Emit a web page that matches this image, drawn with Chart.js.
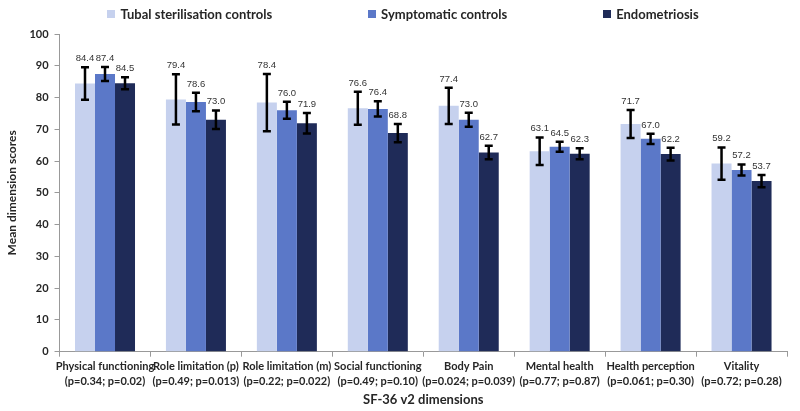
<!DOCTYPE html>
<html>
<head>
<meta charset="utf-8">
<script src="https://cdn.jsdelivr.net/npm/chart.js@4"></script>
<style>
  html, body { margin: 0; padding: 0; background: #fff; }
  #wrap { position: relative; width: 800px; height: 411px; }
  #legend {
    position: absolute; top: 6px; left: 0; width: 806px;
    display: flex; justify-content: center; gap: 96px;
    font: bold 13px Lato, "Open Sans", sans-serif; color: #262626;
  }
  #legend span.item { display: flex; align-items: center; }
  #legend i { display: inline-block; width: 8px; height: 8px; margin-right: 5px; }
</style>
</head>
<body>
<div id="wrap">
  <canvas id="chart" width="800" height="411"></canvas>
  <div id="legend"></div>
</div>
<script>
// categories (two-line labels) and series
const categories = [
  ["Physical functioning", "(p=0.34; p=0.02)"],
  ["Role limitation (p)", "(p=0.49; p=0.013)"],
  ["Role limitation (m)", "(p=0.22; p=0.022)"],
  ["Social functioning", "(p=0.49; p=0.10)"],
  ["Body Pain", "(p=0.024; p=0.039)"],
  ["Mental health", "(p=0.77; p=0.87)"],
  ["Health perception", "(p=0.061; p=0.30)"],
  ["Vitality", "(p=0.72; p=0.28)"]
];
const seriesNames = ["Tubal sterilisation controls", "Symptomatic controls", "Endometriosis"];
const tubal = [84.4, 79.4, 78.4, 76.6, 77.4, 63.1, 71.7, 59.2];
const symptomatic = [87.4, 78.6, 76.0, 76.4, 73.0, 64.5, 67.0, 57.2];
const endo = [84.5, 73.0, 71.9, 68.8, 62.7, 62.3, 62.2, 53.7];
// half-widths of the error bars
const tubalErr = [5.1, 7.9, 9.0, 5.2, 5.7, 4.3, 4.4, 5.1];
const symptomaticErr = [2.2, 2.9, 2.7, 2.4, 2.2, 1.6, 1.6, 1.7];
const endoErr = [1.9, 2.9, 3.2, 2.9, 2.1, 1.7, 2.0, 1.9];

const colors = ["#c6d1ee", "#5b78c8", "#1f2b58"];
const errors = [tubalErr, symptomaticErr, endoErr];

// html legend
const legendEl = document.getElementById("legend");
seriesNames.forEach((name, i) => {
  legendEl.insertAdjacentHTML("beforeend",
    `<span class="item"><i style="background:${colors[i]}"></i>${name}</span>`);
});

// error bars + value labels
const errorBars = {
  id: "errorBars",
  afterDatasetsDraw(chart) {
    const ctx = chart.ctx;
    const y = chart.scales.y;
    ctx.save();
    chart.data.datasets.forEach((ds, i) => {
      const meta = chart.getDatasetMeta(i);
      meta.data.forEach((bar, j) => {
        const v = ds.data[j];
        const e = errors[i][j];
        const top = y.getPixelForValue(v + e);
        const bot = y.getPixelForValue(v - e);
        ctx.strokeStyle = "#000";
        ctx.lineWidth = 2.5;
        ctx.beginPath();
        ctx.moveTo(bar.x, top); ctx.lineTo(bar.x, bot);
        ctx.moveTo(bar.x - 4, top); ctx.lineTo(bar.x + 4, top);
        ctx.moveTo(bar.x - 4, bot); ctx.lineTo(bar.x + 4, bot);
        ctx.stroke();
        ctx.fillStyle = "#333";
        ctx.font = "9.5px 'Liberation Sans', Arial, sans-serif";
        ctx.textAlign = "center";
        ctx.textBaseline = "bottom";
        ctx.fillText(v.toFixed(1), bar.x, top - 4);
      });
    });
    ctx.restore();
  }
};

const axisFont = { family: "Lato, 'Open Sans', sans-serif", weight: "bold", size: 11, lineHeight: 1.35 };

new Chart(document.getElementById("chart"), {
  type: "bar",
  data: {
    labels: categories,
    datasets: [
      { label: seriesNames[0], data: tubal, backgroundColor: colors[0] },
      { label: seriesNames[1], data: symptomatic, backgroundColor: colors[1] },
      { label: seriesNames[2], data: endo, backgroundColor: colors[2] }
    ]
  },
  options: {
    responsive: false,
    animation: false,
    layout: { padding: { top: 34, right: 13, bottom: 3, left: 1 } },
    datasets: { bar: { categoryPercentage: 0.66, barPercentage: 1.0 } },
    plugins: {
      legend: { display: false },
      tooltip: { enabled: false }
    },
    scales: {
      x: {
        grid: { drawOnChartArea: false, tickLength: 5, color: "#999" },
        border: { color: "#999" },
        ticks: { color: "#262626", font: axisFont, maxRotation: 0, autoSkip: false, padding: 2 },
        title: { display: true, text: "SF-36 v2 dimensions", color: "#262626",
                 font: { family: "Lato, 'Open Sans', sans-serif", weight: "bold", size: 13 }, padding: { top: 2, bottom: 0 } }
      },
      y: {
        min: 0, max: 100,
        grid: { drawOnChartArea: false, tickLength: 5, color: "#999" },
        border: { color: "#999" },
        ticks: { stepSize: 10, color: "#262626", font: axisFont, padding: 6 },
        title: { display: true, text: "Mean dimension scores", color: "#262626",
                 font: { family: "Lato, 'Open Sans', sans-serif", weight: "bold", size: 12 } }
      }
    }
  },
  plugins: [errorBars]
});
</script>
</body>
</html>
